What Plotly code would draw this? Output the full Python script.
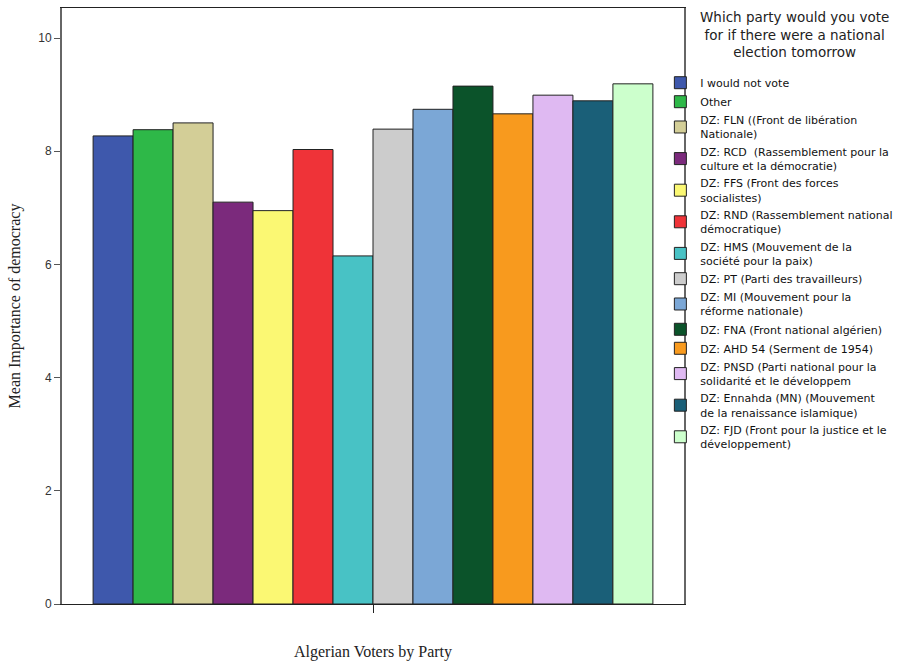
import plotly.graph_objects as go

parties = [
    "I would not vote",
    "Other",
    "DZ: FLN ((Front de libération<br>Nationale)",
    "DZ: RCD  (Rassemblement pour la<br>culture et la démocratie)",
    "DZ: FFS (Front des forces<br>socialistes)",
    "DZ: RND (Rassemblement national<br>démocratique)",
    "DZ: HMS (Mouvement de la<br>société pour la paix)",
    "DZ: PT (Parti des travailleurs)",
    "DZ: MI (Mouvement pour la<br>réforme nationale)",
    "DZ: FNA (Front national algérien)",
    "DZ: AHD 54 (Serment de 1954)",
    "DZ: PNSD (Parti national pour la<br>solidarité et le développem",
    "DZ: Ennahda (MN) (Mouvement<br>de la renaissance islamique)",
    "DZ: FJD (Front pour la justice et le<br>développement)",
]
mean_importance = [8.27, 8.38, 8.50, 7.10, 6.95, 8.03, 6.15, 8.39, 8.74, 9.15, 8.66, 8.99, 8.89, 9.19]
colors = ["#3E58AC", "#2EB848", "#D3CE97", "#7B2A7C", "#FBF873", "#EF3338", "#48C2C5",
          "#CCCCCC", "#7BA7D6", "#0B532A", "#F89A1E", "#DFB9F2", "#1A5F78", "#CCFFCC"]
category = ["Algerian Voters by Party"]
y_ticks = [0, 2, 4, 6, 8, 10]
legend_title = "Which party would you vote<br>for if there were a national<br>election tomorrow"

fig = go.Figure()
for name, val, col in zip(parties, mean_importance, colors):
    fig.add_trace(go.Bar(
        x=category, y=[val], name=name,
        marker=dict(color=col, line=dict(color="#222222", width=1)),
    ))

fig.add_annotation(
    text=legend_title, xref="paper", yref="paper", x=1.178, y=1.001,
    xanchor="center", yanchor="top", align="center", showarrow=False,
    font=dict(family="DejaVu Sans, sans-serif", size=13.5, color="#222222"),
)

fig.update_layout(
    width=907, height=666,
    margin=dict(l=62, r=223, t=8, b=62),
    paper_bgcolor="white", plot_bgcolor="white",
    barmode="group", bargap=0.1, bargroupgap=0,
    font=dict(family="Arial, Liberation Sans, sans-serif", size=12, color="#222222"),
    showlegend=True,
    legend=dict(
        x=0.962, xanchor="left", y=0.899, yanchor="top",
        bgcolor="rgba(0,0,0,0)",
        font=dict(family="DejaVu Sans, sans-serif", size=11, color="#111111"),
        tracegroupgap=0,
        itemclick=False,
    ),
    xaxis=dict(
        showticklabels=False, ticks="outside", ticklen=8, tickcolor="#222222",
        showline=True, linecolor="#222222", linewidth=1, mirror=True,
        showgrid=False, zeroline=False, automargin=False,
        title=dict(text="Algerian Voters by Party", standoff=33,
                   font=dict(family="Liberation Serif, Times New Roman, serif", size=16, color="#222222")),
    ),
    yaxis=dict(
        range=[0, 10.53], tickvals=y_ticks, ticks="outside", ticklen=6, tickcolor="#555555",
        tickfont=dict(size=12, color="#333333"),
        showline=True, linecolor="#666666", linewidth=2, mirror=True,
        showgrid=False, zeroline=False, automargin=False,
        title=dict(text="Mean Importance of democracy", standoff=14,
                   font=dict(family="Liberation Serif, Times New Roman, serif", size=16, color="#222222")),
    ),
)

fig.write_html("out.html", config={"displayModeBar": False},
               post_script="document.body.style.margin='0';")
